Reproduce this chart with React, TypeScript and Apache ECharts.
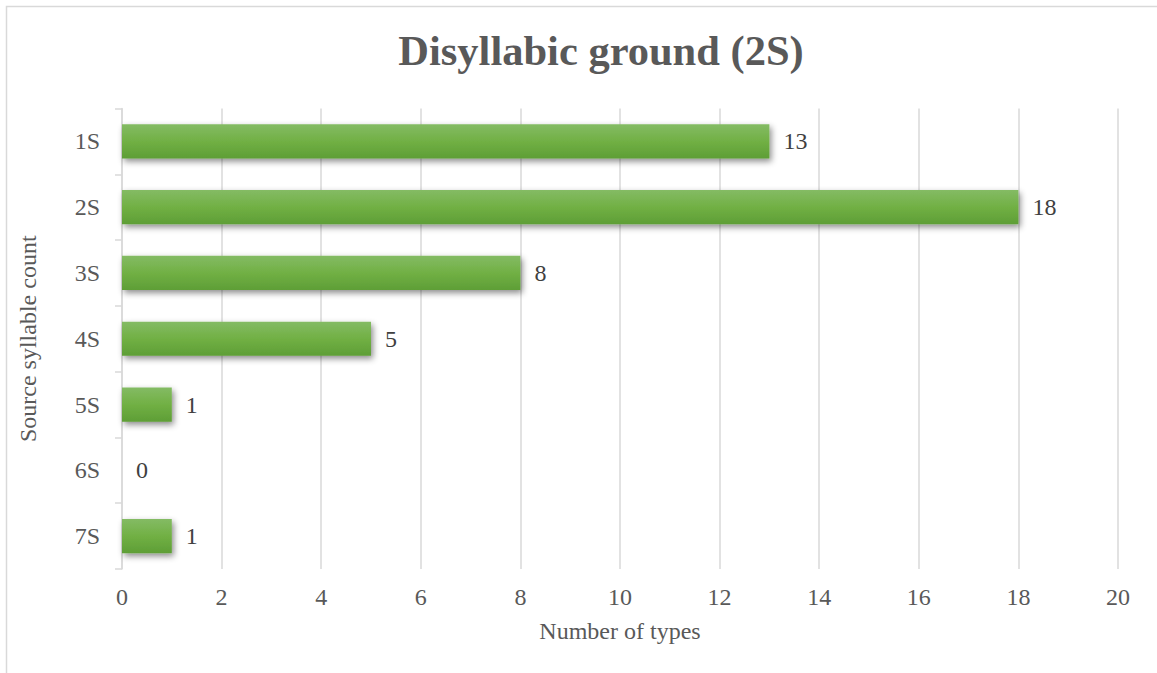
import React, { useEffect, useRef } from "react";
import * as echarts from "echarts";

// Source syllable counts (category axis) and number of types per count
const categories: string[] = ["1S", "2S", "3S", "4S", "5S", "6S", "7S"];
const typeCounts: number[] = [13, 18, 8, 5, 1, 0, 1];
const xTicks = { min: 0, max: 20, interval: 2 };

const SERIF = '"Liberation Serif", "Times New Roman", Times, serif';
const TEXT_GREY = "#595959";
const LINE_GREY = "#d9d9d9";

export default function App() {
  const ref = useRef<HTMLDivElement>(null);

  useEffect(() => {
    if (!ref.current) return;
    const chart = echarts.init(ref.current, undefined, { renderer: "svg" });
    chart.setOption({
      animation: false,
      backgroundColor: "#ffffff",
      textStyle: { fontFamily: SERIF },
      title: {
        text: "Disyllabic ground (2S)",
        left: 596,
        top: 24,
        textAlign: "center",
        textStyle: {
          fontFamily: SERIF,
          fontSize: 42.5,
          fontWeight: "bold",
          color: TEXT_GREY,
        },
      },
      graphic: [
        {
          type: "rect",
          silent: true,
          z: -10,
          shape: { x: 6.5, y: 6.5, width: 1250, height: 720 },
          style: { fill: "none", stroke: LINE_GREY, lineWidth: 1.5 },
        },
      ],
      grid: { left: 122, right: 39, top: 108.5, bottom: 104, containLabel: false },
      xAxis: {
        type: "value",
        min: xTicks.min,
        max: xTicks.max,
        interval: xTicks.interval,
        name: "Number of types",
        nameLocation: "middle",
        nameGap: 50,
        nameTextStyle: { fontFamily: SERIF, fontSize: 24, color: TEXT_GREY },
        axisLine: { show: false },
        axisTick: { show: false },
        axisLabel: { margin: 16, fontFamily: SERIF, fontSize: 24, color: TEXT_GREY },
        splitLine: { show: true, lineStyle: { color: LINE_GREY, width: 1.5 } },
      },
      yAxis: {
        type: "category",
        data: categories,
        inverse: true,
        name: "Source syllable count",
        nameLocation: "middle",
        nameGap: 82,
        nameRotate: 90,
        nameTextStyle: { fontFamily: SERIF, fontSize: 24, color: TEXT_GREY },
        axisLine: { show: true, lineStyle: { color: LINE_GREY, width: 1.5 } },
        axisTick: { show: true, length: 7, lineStyle: { color: LINE_GREY, width: 1.5 } },
        axisLabel: { margin: 22, fontFamily: SERIF, fontSize: 24, color: TEXT_GREY },
        splitLine: { show: false },
      },
      series: [
        {
          type: "bar",
          data: typeCounts,
          barWidth: "52%",
          itemStyle: {
            color: new echarts.graphic.LinearGradient(0, 0, 0, 1, [
              { offset: 0, color: "#84bb64" },
              { offset: 0.5, color: "#71b044" },
              { offset: 1, color: "#5e9e36" },
            ]),
            shadowColor: "rgba(0,0,0,0.45)",
            shadowBlur: 6,
            shadowOffsetX: 2,
            shadowOffsetY: 3,
          },
          label: {
            show: true,
            position: "right",
            distance: 14,
            fontFamily: SERIF,
            fontSize: 24,
            color: "#404040",
          },
        },
      ],
    });
    return () => chart.dispose();
  }, []);

  return (
    <div
      ref={ref}
      style={{ position: "fixed", left: 0, top: 0, width: 1157, height: 673 }}
    />
  );
}
